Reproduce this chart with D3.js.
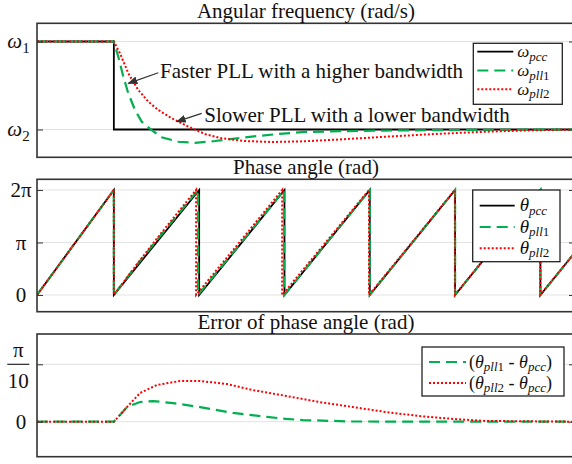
<!DOCTYPE html>
<html>
<head>
<meta charset="utf-8">
<script src="https://cdn.jsdelivr.net/npm/d3@7"></script>
<style>
  body { margin: 0; background: #fff; }
  svg { display: block; font-family: "Liberation Serif", "Times New Roman", serif; }
</style>
</head>
<body>
<div id="chart"></div>
<script>
// time axis, ms (no tick labels in the figure)
const timeDomain = [0, 700];

// angular frequency, normalised: 1 = omega1, 0 = omega2
const omegaPcc = [[0, 1], [100, 1], [100, 0], [700, 0]];
const omegaPll1 = [
  [0, 1], [100, 1], [105.8, 0.827], [112.3, 0.602], [118.8, 0.411], [127.5, 0.222],
  [136.2, 0.089], [149.2, -0.006], [162.2, -0.089], [183.8, -0.139], [205.6, -0.151],
  [231.6, -0.131], [270.6, -0.089], [314, -0.051], [348.7, -0.028], [400, -0.018],
  [454, -0.012], [562, -0.005], [700, 0]
];
const omegaPll2 = [
  [0, 1], [100, 1], [108, 0.866], [118.8, 0.639], [131.8, 0.449], [144.8, 0.316],
  [157.8, 0.222], [175.3, 0.127], [196.9, 0.032], [218.6, -0.051], [240.3, -0.100],
  [270.6, -0.131], [305.4, -0.142], [348.7, -0.134], [400, -0.11], [454, -0.082],
  [520, -0.05], [584, -0.025], [640, -0.01], [700, 0]
];

// phase angle, rad (wrapped 0..2pi)
const thetaPcc = [
  [0, 0], [100, 6.283], [100, 0], [211, 6.283], [211, 0], [322, 6.283], [322, 0],
  [433, 6.283], [433, 0], [544, 6.283], [544, 0], [655, 6.283], [655, 0], [700, 2.547]
];
const thetaPll1 = [
  [0, 0], [100, 6.283], [100, 0], [130, 1.81], [160, 3.51], [209.5, 6.283], [209.5, 0],
  [265, 3.10], [321.7, 6.283], [321.7, 0], [432.9, 6.283], [432.9, 0], [544, 6.283],
  [544, 0], [655, 6.283], [655, 0], [700, 2.547]
];
const thetaPll2 = [
  [0, 0], [100, 6.283], [100, 0], [130, 1.84], [160, 3.61], [207, 6.283], [207, 0],
  [265, 3.24], [319, 6.283], [319, 0], [375, 3.11], [432, 6.283], [432, 0], [488, 3.15],
  [543.7, 6.283], [543.7, 0], [654.8, 6.283], [654.8, 0], [700, 2.55]
];

// phase angle error, rad
const errPll1 = [
  [0, 0], [100, 0], [117.1, 0.080], [134, 0.108], [150.9, 0.113], [177, 0.102],
  [212.1, 0.080], [255, 0.048], [299.3, 0.026], [324, 0.015], [346.1, 0.009],
  [411.1, 0.001], [700, 0]
];
const errPll2 = [
  [0, 0], [100, 0], [117.1, 0.080], [134, 0.157], [156.1, 0.201], [186.1, 0.223],
  [212.1, 0.223], [247.2, 0.206], [281, 0.173], [324, 0.141], [366.9, 0.108],
  [411.1, 0.080], [454.1, 0.053], [497, 0.031], [541.3, 0.015], [584.2, 0.004], [700, 0]
];

// tick values
const freqTicks = [0, 1];
const freqTickSubs = ["2", "1"];
const phaseTicks = [0, Math.PI, 2 * Math.PI];
const phaseTickLabels = ["0", "π", "2π"];
const errTicks = [0, Math.PI / 10];

const titles = ["Angular frequency (rad/s)", "Phase angle (rad)", "Error of phase angle (rad)"];
const annotations = [
  { text: "Faster PLL with a higher bandwidth", tx: 160, ty: 0.582, from: [157.8, 0.645], to: [118.8, 0.525] },
  { text: "Slower PLL with a lower bandwidth", tx: 217.7, ty: 0.089, from: [214.3, 0.184], to: [181.8, 0.089] }
];

const width = 572, height = 464;
const left = 37, right = 575;
const green = "#00b050", red = "#ff0000";

const svg = d3.select("#chart").append("svg")
  .attr("width", width)
  .attr("height", height);

const defs = svg.append("defs");
defs.append("marker")
  .attr("id", "arrow")
  .attr("markerUnits", "userSpaceOnUse")
  .attr("markerWidth", 10).attr("markerHeight", 8)
  .attr("refX", 9).attr("refY", 4)
  .attr("orient", "auto")
  .append("path")
  .attr("d", "M0,0 L10,4 L0,8 z")
  .attr("fill", "#333");

const x = d3.scaleLinear().domain(timeDomain).range([left, right]);

const styles = {
  pcc: { stroke: "#000", width: 1.8, dash: null },
  pll1: { stroke: green, width: 2.2, dash: "11,6" },
  pll2: { stroke: red, width: 2, dash: "2,2" }
};

// panel boxes (top, bottom) and y domains
const panels = [
  { top: 23.3, bottom: 157.3, domain: [-0.316, 1.207], titleY: 18.3 },
  { top: 179.3, bottom: 311.7, domain: [-1.0, 6.92], titleY: 173.5 },
  { top: 334, bottom: 456.7, domain: [-0.1916, 0.48], titleY: 329 }
];

// rich text helper: parts = [{t, it, sub}]
function rich(sel, parts, size, subSize, shift) {
  let lvl = 0;
  parts.forEach(p => {
    const s = p.sub ? 1 : 0;
    const ts = sel.append("tspan")
      .text(p.t)
      .attr("font-size", s ? subSize : size)
      .attr("font-style", p.it ? "italic" : "normal");
    if (s !== lvl) ts.attr("dy", (s - lvl) * shift);
    lvl = s;
  });
}

function drawPanel(i, tickValues, series, legend) {
  const p = panels[i];
  const y = d3.scaleLinear().domain(p.domain).range([p.bottom, p.top]);
  const g = svg.append("g");

  // title
  svg.append("text")
    .attr("x", (left + right) / 2)
    .attr("y", p.titleY)
    .attr("text-anchor", "middle")
    .attr("font-size", 21)
    .attr("fill", "#111")
    .text(titles[i]);

  // grid
  g.selectAll(".grid")
    .data(tickValues)
    .join("line")
    .attr("x1", left).attr("x2", right)
    .attr("y1", d => y(d)).attr("y2", d => y(d))
    .attr("stroke", "#e2e2e2")
    .attr("stroke-width", 1);

  // clip
  defs.append("clipPath").attr("id", "clip" + i)
    .append("rect")
    .attr("x", left).attr("y", p.top)
    .attr("width", right - left).attr("height", p.bottom - p.top);

  const line = d3.line().x(d => x(d[0])).y(d => y(d[1]));
  const lines = g.append("g").attr("clip-path", `url(#clip${i})`);
  series.forEach(s => {
    const st = styles[s.key];
    lines.append("path")
      .datum(s.data)
      .attr("d", line)
      .attr("fill", "none")
      .attr("stroke", st.stroke)
      .attr("stroke-width", st.width)
      .attr("stroke-dasharray", st.dash);
  });

  // axes with inward ticks
  g.append("g")
    .attr("transform", `translate(${left},0)`)
    .call(d3.axisLeft(y).tickValues(tickValues).tickSize(-6).tickFormat(""))
    .call(a => a.select(".domain").remove())
    .selectAll("line").attr("stroke", "#333");
  g.append("g")
    .attr("transform", `translate(${right},0)`)
    .call(d3.axisRight(y).tickValues(tickValues).tickSize(-6).tickFormat(""))
    .call(a => a.select(".domain").remove())
    .selectAll("line").attr("stroke", "#333");

  // frame
  g.append("rect")
    .attr("x", left).attr("y", p.top)
    .attr("width", right - left).attr("height", p.bottom - p.top)
    .attr("fill", "none")
    .attr("stroke", "#333")
    .attr("stroke-width", 1.6);

  // legend
  if (legend) {
    const lg = g.append("g");
    lg.append("rect")
      .attr("x", legend.x).attr("y", legend.y)
      .attr("width", legend.w).attr("height", legend.h)
      .attr("fill", "#fff")
      .attr("stroke", "#222")
      .attr("stroke-width", 1.3);
    legend.rows.forEach((r, k) => {
      const ry = legend.y + legend.first + k * legend.step;
      const st = styles[r.key];
      lg.append("line")
        .attr("x1", legend.x + legend.lx0).attr("x2", legend.x + legend.lx1)
        .attr("y1", ry).attr("y2", ry)
        .attr("stroke", st.stroke)
        .attr("stroke-width", st.width)
        .attr("stroke-dasharray", st.dash);
      const t = lg.append("text")
        .attr("x", legend.x + legend.tx)
        .attr("y", ry + 5.5)
        .attr("fill", "#111");
      rich(t, r.parts, legend.size, legend.subSize, 3.5);
    });
  }
  return { g, y };
}

// panel 1: angular frequency
const p1 = drawPanel(0, freqTicks,
  [{ key: "pcc", data: omegaPcc }, { key: "pll1", data: omegaPll1 }, { key: "pll2", data: omegaPll2 }],
  {
    x: 473.3, y: 43.3, w: 89, h: 61, first: 8.4, step: 18.8, lx0: 4, lx1: 40, tx: 44,
    size: 17, subSize: 13,
    rows: [
      { key: "pcc", parts: [{ t: "ω", it: 1 }, { t: "pcc", it: 1, sub: 1 }] },
      { key: "pll1", parts: [{ t: "ω", it: 1 }, { t: "pll", it: 1, sub: 1 }, { t: "1", sub: 1 }] },
      { key: "pll2", parts: [{ t: "ω", it: 1 }, { t: "pll", it: 1, sub: 1 }, { t: "2", sub: 1 }] }
    ]
  });
freqTicks.forEach((v, k) => {
  const t = svg.append("text")
    .attr("x", 18.5).attr("y", p1.y(v) + 6.5)
    .attr("text-anchor", "middle")
    .attr("fill", "#111");
  rich(t, [{ t: "ω", it: 1 }, { t: freqTickSubs[k], sub: 1 }], 21, 15, 5);
});
annotations.forEach(a => {
  svg.append("line")
    .attr("x1", x(a.from[0])).attr("y1", p1.y(a.from[1]))
    .attr("x2", x(a.to[0])).attr("y2", p1.y(a.to[1]))
    .attr("stroke", "#333")
    .attr("stroke-width", 1.3)
    .attr("marker-end", "url(#arrow)");
  svg.append("text")
    .attr("x", x(a.tx)).attr("y", p1.y(a.ty))
    .attr("font-size", 21)
    .attr("fill", "#111")
    .text(a.text);
});

// panel 2: phase angle
const p2 = drawPanel(1, phaseTicks,
  [{ key: "pcc", data: thetaPcc }, { key: "pll1", data: thetaPll1 }, { key: "pll2", data: thetaPll2 }],
  {
    x: 472.7, y: 190, w: 87.3, h: 71.7, first: 15.7, step: 21.3, lx0: 7, lx1: 42, tx: 47,
    size: 19, subSize: 13,
    rows: [
      { key: "pcc", parts: [{ t: "θ", it: 1 }, { t: "pcc", it: 1, sub: 1 }] },
      { key: "pll1", parts: [{ t: "θ", it: 1 }, { t: "pll", it: 1, sub: 1 }, { t: "1", sub: 1 }] },
      { key: "pll2", parts: [{ t: "θ", it: 1 }, { t: "pll", it: 1, sub: 1 }, { t: "2", sub: 1 }] }
    ]
  });
phaseTicks.forEach((v, k) => {
  svg.append("text")
    .attr("x", 21).attr("y", p2.y(v) + 7.3)
    .attr("text-anchor", "middle")
    .attr("font-size", 21)
    .attr("fill", "#111")
    .text(phaseTickLabels[k]);
});

// panel 3: error of phase angle
const p3 = drawPanel(2, errTicks,
  [{ key: "pll1", data: errPll1 }, { key: "pll2", data: errPll2 }],
  {
    x: 422, y: 347, w: 142, h: 49, first: 15, step: 21, lx0: 7, lx1: 44, tx: 47,
    size: 18, subSize: 13,
    rows: [
      { key: "pll1", parts: [{ t: "(" }, { t: "θ", it: 1 }, { t: "pll", it: 1, sub: 1 }, { t: "1", sub: 1 },
        { t: " - " }, { t: "θ", it: 1 }, { t: "pcc", it: 1, sub: 1 }, { t: ")" }] },
      { key: "pll2", parts: [{ t: "(" }, { t: "θ", it: 1 }, { t: "pll", it: 1, sub: 1 }, { t: "2", sub: 1 },
        { t: " - " }, { t: "θ", it: 1 }, { t: "pcc", it: 1, sub: 1 }, { t: ")" }] }
    ]
  });
svg.append("text")
  .attr("x", 21).attr("y", p3.y(0) + 7.8)
  .attr("text-anchor", "middle")
  .attr("font-size", 21)
  .attr("fill", "#111")
  .text("0");
// pi/10 as a stacked fraction
const fy = p3.y(errTicks[1]);
svg.append("text")
  .attr("x", 18.3).attr("y", fy - 7.6)
  .attr("text-anchor", "middle")
  .attr("font-size", 21)
  .attr("fill", "#111")
  .text("π");
svg.append("line")
  .attr("x1", 7.3).attr("x2", 29.3)
  .attr("y1", fy).attr("y2", fy)
  .attr("stroke", "#111")
  .attr("stroke-width", 1.1);
svg.append("text")
  .attr("x", 18.3).attr("y", fy + 23.7)
  .attr("text-anchor", "middle")
  .attr("font-size", 21)
  .attr("fill", "#111")
  .text("10");
</script>
</body>
</html>
